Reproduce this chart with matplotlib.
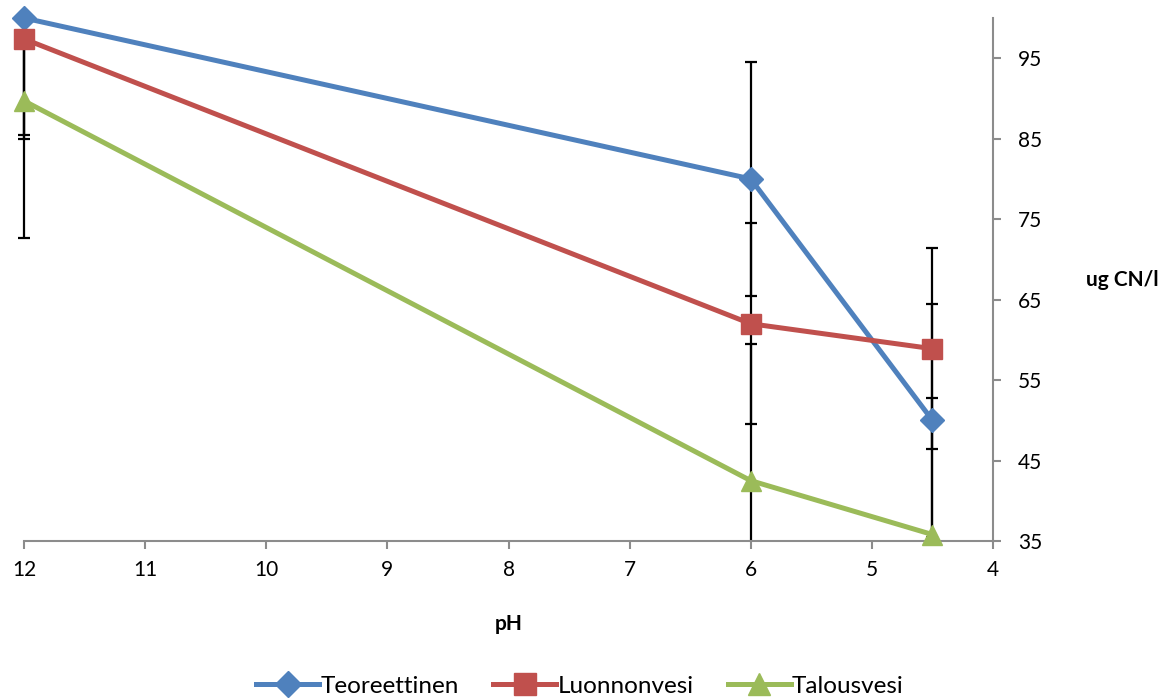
import matplotlib
matplotlib.use("Agg")
import matplotlib.pyplot as plt
from matplotlib.patches import Rectangle

plt.rcParams['font.family'] = ['Lato', 'DejaVu Sans']

ph = [12, 6, 4.5]
series_names = ["Teoreettinen", "Luonnonvesi", "Talousvesi"]
teoreettinen = [100, 80, 50]
luonnonvesi = [97.4, 62, 58.9]
talousvesi = [89.7, 42.5, 35.8]
errors = [14.5, 12.5, 17]
colors = ["#4F81BD", "#C0504D", "#9BBB59"]
markers = ["D", "s", "^"]
msizes = [12, 14, 15]
y_ticks = [35, 45, 55, 65, 75, 85, 95]
x_ticks = [12, 11, 10, 9, 8, 7, 6, 5, 4]

fig = plt.figure(figsize=(11.6, 6.99), dpi=100)
ax = fig.add_axes([24/1160, 1-541/699, (993-24)/1160, (541-18)/699])

clip = Rectangle((-0.03, 0), 1.06, 1, transform=ax.transAxes)

data = [teoreettinen, luonnonvesi, talousvesi]
for vals, err in zip(data, errors):
    eb = ax.errorbar(ph, vals, yerr=err, fmt='none', ecolor='black',
                     elinewidth=1.6, capsize=4.5, capthick=1.6, zorder=2)
    for art in eb.lines[1] + eb.lines[2]:
        art.set_clip_path(clip)

for vals, name, c, m, ms in zip(data, series_names, colors, markers, msizes):
    ax.plot(ph, vals, color=c, lw=3.6, marker=m, markersize=ms,
            markeredgecolor=c, label=name, zorder=3, clip_on=False)

ax.set_xlim(12, 4)
ax.set_ylim(35, 100)
ax.set_xticks(x_ticks)
ax.set_yticks(y_ticks)
ax.yaxis.tick_right()
ax.yaxis.set_label_position("right")
for s in ["top", "left"]:
    ax.spines[s].set_visible(False)
for s in ["right", "bottom"]:
    ax.spines[s].set_color("#8c8c8c")
    ax.spines[s].set_linewidth(1.5)
ax.tick_params(axis='both', colors="#8c8c8c", labelcolor='black',
               labelsize=15, length=6, width=1.5, direction='out')
ax.tick_params(axis='y', pad=12)
ax.tick_params(axis='x', pad=8)

ax.set_xlabel("pH", fontsize=15, fontweight='bold', labelpad=24)
ax.set_ylabel("ug CN/l", fontsize=15, fontweight='bold', rotation=0,
              labelpad=58, va='center')

fig.legend(loc='center', bbox_to_anchor=(0.5, 1-686/699), ncol=3,
           frameon=False, fontsize=17.5, handlelength=2.6, columnspacing=1.4,
           handletextpad=0.05, markerscale=1.1)

fig.savefig("out.png", dpi=100)
